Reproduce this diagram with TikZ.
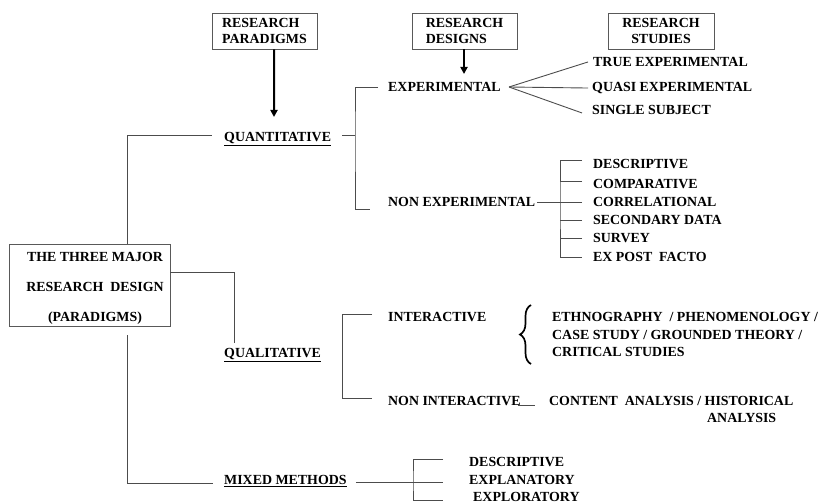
\documentclass[tikz,border=0pt]{standalone}
\usepackage{fontspec}
\setmainfont{Liberation Serif}
\usetikzlibrary{decorations.pathreplacing,arrows.meta}
\begin{document}
\begin{tikzpicture}[x=1bp,y=-1bp,
  lbl/.style={anchor=base west,inner sep=0pt,font=\fontsize{13.9bp}{16bp}\selectfont\bfseries},
  mlbl/.style={anchor=west,inner sep=0pt,align=left,font=\fontsize{13.9bp}{17.2bp}\selectfont\bfseries},
  hbox/.style={draw=black!65,line width=0.8bp,minimum width=105bp,minimum height=36bp,inner sep=0pt,font=\fontsize{13.9bp}{16.5bp}\selectfont\bfseries},
  conn/.style={draw=black!70,line width=0.9bp},
  bigarrow/.style={draw=black,line width=2bp,-{Triangle[length=7bp,width=7bp]}}]
\useasboundingbox (0,0) rectangle (819,503);

% header boxes
\node[hbox,align=left] (bparad) at (264.5,31) {RESEARCH\\PARADIGMS};
\node[hbox,align=left] (bdes) at (464.5,31) {RESEARCH\\DESIGNS};
\node[hbox,align=center,minimum width=106bp] (bstud) at (661,31) {RESEARCH\\STUDIES};

% main box
\node[draw=black!65,line width=0.8bp,minimum width=161bp,minimum height=82bp,inner sep=0pt] (main) at (89.5,285) {};
\node[inner sep=0pt,align=center,font=\fontsize{13.9bp}{30bp}\selectfont\bfseries] (mainlbl) at (95,288) {THE THREE MAJOR\\RESEARCH\ \ DESIGN\\(PARADIGMS)};

% level 1
\node[lbl] (quant) at (224,141.5) {\underline{QUANTITATIVE}};
\node[lbl] (qual) at (224,357.5) {\underline{QUALITATIVE}};
\node[lbl] (mixed) at (224,484.5) {\underline{MIXED METHODS}};

% level 2
\node[lbl] (exp) at (388,91.5) {EXPERIMENTAL};
\node[lbl] (nonexp) at (388,206.5) {NON EXPERIMENTAL};
\node[lbl] (inter) at (388,321.5) {INTERACTIVE};
\node[lbl] (noninter) at (388,405.5) {NON INTERACTIVE};

% level 3
\node[lbl] (true) at (593,66.5) {TRUE EXPERIMENTAL};
\node[lbl] (quasi) at (592,91.5) {QUASI EXPERIMENTAL};
\node[lbl] (single) at (592,114.5) {SINGLE SUBJECT};
\node[lbl] (desc) at (593,168.5) {DESCRIPTIVE};
\node[lbl] (comp) at (593,188.5) {COMPARATIVE};
\node[lbl] (corr) at (593,206.5) {CORRELATIONAL};
\node[lbl] (sec) at (593,224.5) {SECONDARY DATA};
\node[lbl] (surv) at (593,242.5) {SURVEY};
\node[lbl] (expost) at (593,261.5) {EX POST\ \ FACTO};
\node[mlbl] (ethno) at (552,334.5) {ETHNOGRAPHY\ \ / PHENOMENOLOGY /\\CASE STUDY / GROUNDED THEORY /\\CRITICAL STUDIES};
\node[mlbl] (content) at (549,409.5) {CONTENT\ \ ANALYSIS / HISTORICAL\\\hspace*{158bp}ANALYSIS};
\node[lbl] (mdesc) at (469,466.5) {DESCRIPTIVE};
\node[lbl] (mexpl) at (469,484.5) {EXPLANATORY};
\node[lbl] (mexplor) at (473,501.5) {EXPLORATORY};

% arrows
\coordinate (a1) at (274,117);
\coordinate (a2) at (464,74);
\draw[bigarrow] ([xshift=9.5bp]bparad.south) -- (a1);
\draw[bigarrow] (bdes.south -| a2) -- (a2);

% quantitative branch
\coordinate (qL) at (212,135);
\coordinate (qR) at (342,135);
\coordinate (qV) at (355,135);
\coordinate (qT) at (378,87);
\coordinate (qB) at (370,209);
\draw[conn] ([xshift=37.5bp]main.north) |- (qL);
\draw[conn] (qR) -- (qV);
\draw[conn] (qT) -| (qV) |- (qB);

% experimental fan
\coordinate (fan) at (509,87);
\draw[conn] (fan) -- ([xshift=-5bp]true.west);
\draw[conn] (fan) -- ([xshift=-4bp]quasi.west);
\draw[conn] (fan) -- ([xshift=-10bp,yshift=-3bp]single.west);

% non experimental bracket
\coordinate (nV) at (560,202);
\draw[conn] ([xshift=2bp]nonexp.east) -- (nonexp.east -| nV);
\draw[conn] ([xshift=-11bp,yshift=4bp]desc.west) -| (nV) |- ([xshift=-11bp]expost.west);
\draw[conn] ([xshift=-11bp,yshift=3bp]comp.west) -- ++(-22bp,0);
\draw[conn] ([xshift=-11bp]corr.west) -- ++(-22bp,0);
\draw[conn] ([xshift=-11bp]sec.west) -- ++(-22bp,0);
\draw[conn] ([xshift=-11bp]surv.west) -- ++(-22bp,0);

% qualitative branch
\coordinate (lq) at (234,343);
\draw[conn] ([yshift=13bp]main.east) -| (lq);
\coordinate (lV) at (342,398);
\draw[conn] ([xshift=-16bp,yshift=3bp]inter.west) -| (lV) -- ([xshift=-16bp]lV -| noninter.west);
\draw[draw=black,line width=1.7bp,decorate,decoration={brace,amplitude=11bp,aspect=0.5}] (531,364) -- (531,305);
\draw[conn] ([xshift=-3bp]noninter.base east) -- ++(17bp,0);

% mixed methods branch
\coordinate (mL) at (213,483);
\draw[conn] ([xshift=37.5bp,yshift=-9bp]main.south) |- (mL);
\coordinate (mV) at (413,482);
\coordinate (mS) at ([xshift=9bp]mixed.base east);
\draw[conn] (mS |- mV) -- (mV);
\draw[conn] ([xshift=-26bp,yshift=7.5bp]mdesc.base west) -| (mV) |- ([xshift=-30bp,yshift=1.5bp]mexplor.base west);
\draw[conn] (mV) -- ([xshift=-26bp]mV -| mexpl.base west);
\end{tikzpicture}
\end{document}
